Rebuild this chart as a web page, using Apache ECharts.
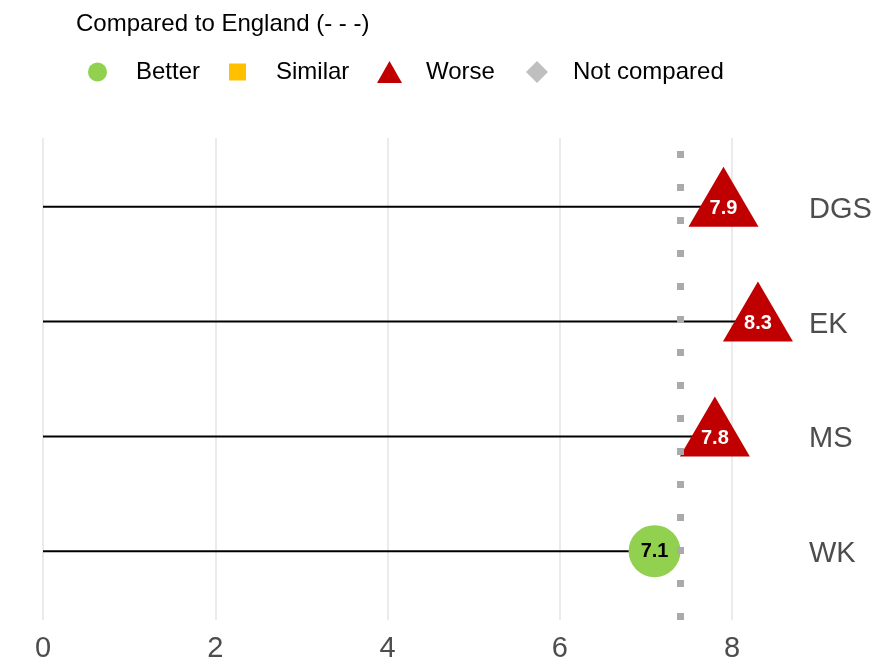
<!DOCTYPE html>
<html>
<head>
<meta charset="utf-8">
<script src="https://cdn.jsdelivr.net/npm/echarts@6/dist/echarts.min.js"></script>
<style>html,body{margin:0;padding:0;background:#fff}#c{width:885px;height:671px}</style>
</head>
<body>
<div id="c"></div>
<script>
const categories = ['DGS', 'EK', 'MS', 'WK'];
const values = [7.9, 8.3, 7.8, 7.1];
const comparison = ['Worse', 'Worse', 'Worse', 'Better'];
const englandValue = 7.4;
const legendNames = ['Better', 'Similar', 'Worse', 'Not compared'];
const legendTitle = 'Compared to England (- - -)';

const FONT = "'Liberation Sans', Arial, sans-serif";
const pts = categories.map((c, i) => [values[i], i + 1, c]);
const byGroup = g => pts.filter((p, i) => comparison[i] === g);

const chart = echarts.init(document.getElementById('c'));

function legendFor(name, icon, left, w, h, pad) {
  return {
    data: [{ name: name, icon: icon }],
    left: left, top: 60, padding: 0,
    itemWidth: w, itemHeight: h, itemGap: 0,
    selectedMode: false, symbolKeepAspect: false,
    textStyle: { fontFamily: FONT, fontSize: 24, color: '#000', padding: [3, 0, 0, pad] }
  };
}

chart.setOption({
  animation: false,
  backgroundColor: '#fff',
  title: {
    text: legendTitle, left: 76, top: 12, padding: 0,
    textStyle: { fontFamily: FONT, fontSize: 24, fontWeight: 'normal', color: '#000' }
  },
  legend: [
    legendFor('Better', 'circle', 88, 19, 19, 24),
    legendFor('Similar', 'rect', 229, 17, 17, 25),
    legendFor('Worse', 'triangle', 377, 25, 22, 19),
    legendFor('Not compared', 'diamond', 526, 22, 22, 20)
  ],
  grid: { left: 43, right: 84, top: 138, bottom: 51, containLabel: false },
  xAxis: {
    type: 'value', min: 0, max: 8.8, interval: 2,
    axisLine: { show: false }, axisTick: { show: false },
    splitLine: { show: true, showMaxLine: false, lineStyle: { color: '#ebebeb', width: 2 } },
    axisLabel: { showMaxLabel: false, margin: 14, fontFamily: FONT, fontSize: 29, color: '#4d4d4d' }
  },
  yAxis: {
    type: 'value', min: 0.4, max: 4.6, inverse: true, position: 'right',
    axisLine: { show: false }, axisTick: { show: false }, splitLine: { show: false },
    axisLabel: {
      margin: 8, fontFamily: FONT, fontSize: 29, color: '#4d4d4d',
      formatter: v => (Number.isInteger(v) && v >= 1 && v <= categories.length) ? '{c|' + categories[v - 1] + '}' : '',
      rich: { c: { fontFamily: FONT, fontSize: 29, color: '#4d4d4d', padding: [6, 0, 0, 0] } }
    }
  },
  series: [
    {
      type: 'custom', name: 'stems', silent: true, z: 1,
      data: pts,
      renderItem: (params, api) => {
        const y = api.value(1), v = api.value(0);
        const p0 = api.coord([0, y]), p1 = api.coord([v, y]);
        return { type: 'line', shape: { x1: p0[0], y1: p0[1], x2: p1[0], y2: p1[1] },
          style: { stroke: '#000', lineWidth: 2 } };
      },
      markLine: {
        silent: true, symbol: 'none', label: { show: false },
        lineStyle: { color: '#aaaaaa', width: 7, type: [7, 26], dashOffset: 20 },
        data: [{ xAxis: englandValue }]
      }
    },
    {
      type: 'scatter', name: 'Better', z: 3, data: byGroup('Better'),
      symbol: 'circle', symbolSize: 52, itemStyle: { color: '#92D050', opacity: 1 },
      label: { show: true, position: 'inside', formatter: p => p.value[0].toFixed(1),
        fontFamily: FONT, fontSize: 20, fontWeight: 'bold', color: '#000' }
    },
    {
      type: 'scatter', name: 'Similar', z: 3, data: byGroup('Similar'),
      symbol: 'rect', symbolSize: 44, itemStyle: { color: '#FFC000', opacity: 1 }
    },
    {
      type: 'scatter', name: 'Worse', z: 3, data: byGroup('Worse'),
      symbol: 'triangle', symbolSize: [70, 60], symbolOffset: [0, -10],
      itemStyle: { color: '#C00000', opacity: 1 },
      label: { show: true, position: 'inside', offset: [0, 12], formatter: p => p.value[0].toFixed(1),
        fontFamily: FONT, fontSize: 20, fontWeight: 'bold', color: '#fff' }
    },
    {
      type: 'scatter', name: 'Not compared', z: 3, data: byGroup('Not compared'),
      symbol: 'diamond', symbolSize: 50, itemStyle: { color: '#BFBFBF', opacity: 1 }
    }
  ]
});
</script>
</body>
</html>
